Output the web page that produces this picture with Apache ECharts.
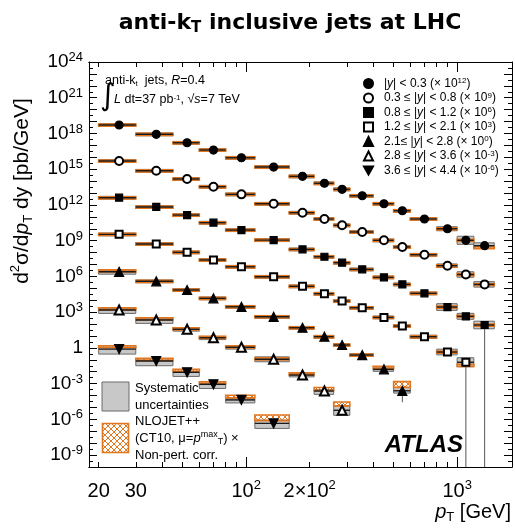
<!DOCTYPE html>
<html><head><meta charset="utf-8">
<script src="https://cdn.jsdelivr.net/npm/echarts@6/dist/echarts.min.js"></script>
<style>html,body{margin:0;padding:0;background:#fff}#c{width:515px;height:532px}</style>
</head><body><div id="c"></div>
<script>
// ---------------- data ----------------
const ptEdges = [20,30,45,60,80,110,160,210,260,310,400,500,600,800,1000,1200,1500];
const xTickLabels = [20, 30, 100, 200, 1000];
const yLabelExps = [-9,-6,-3,0,3,6,9,12,15,18,21,24];
const rapLabels = ['|y| < 0.3','0.3 ≤ |y| < 0.8','0.8 ≤ |y| < 1.2','1.2 ≤ |y| < 2.1','2.1≤ |y| < 2.8','2.8 ≤ |y| < 3.6','3.6 ≤ |y| < 4.4'];
const scaleExps = [12, 9, 6, 3, 0, -3, -6];

// measured cross sections [pb/GeV] (unscaled)
const xsec_y00_03 = [5.13e6, 8.51e5, 1.66e5, 4.07e4, 9.12e3, 1.51e3, 251, 66.1, 20.4, 5.89, 1.26, 0.324, 0.0661, 0.0100, 1.07e-3, 3.8e-4];
const xsec_y03_08 = [4.9e6, 7.41e5, 1.51e5, 3.39e4, 7.76e3, 1.26e3, 224, 66.1, 19.5, 5.37, 1.07, 0.295, 0.0661, 7.94e-3, 1.45e-3, 2.14e-4];
const xsec_y08_12 = [4.07e6, 6.76e5, 1.41e5, 3.24e4, 7.76e3, 1.12e3, 186, 44.7, 14.1, 3.89, 0.832, 0.214, 0.038, 2.69e-3, 4.47e-4, 8.3e-5];
const xsec_y12_21 = [3.39e6, 5.25e5, 1.05e5, 2.4e4, 6.46e3, 933, 148, 35.5, 8.51, 2.34, 0.363, 0.0676, 8.7e-3, 4.47e-4, 6.2e-5];
const xsec_y21_28 = [2.45e6, 3.89e5, 7.24e4, 1.45e4, 2.82e3, 407, 49, 8.7, 1.74, 0.251, 0.0158, 2.5e-4];
const xsec_y28_36 = [1.51e6, 2.19e5, 3.63e4, 7.08e3, 1.12e3, 110, 5.25, 0.24, 5.75e-3];
const xsec_y36_44 = [7.94e5, 7.94e4, 8.91e3, 871, 42.7, 0.457];

// systematic uncertainties (relative, up / down)
const sysUp_y00_03 = [0.3,0.3,0.3,0.3,0.3,0.3,0.3,0.3,0.3,0.3,0.3,0.3,0.3,0.48,1.2,0.74];
const sysDn_y00_03 = [0.25,0.25,0.25,0.25,0.25,0.25,0.25,0.25,0.25,0.25,0.25,0.25,0.25,0.32,0.54,0.42];
const sysUp_y03_08 = [0.3,0.3,0.3,0.3,0.3,0.3,0.3,0.3,0.3,0.3,0.3,0.3,0.3,0.4,0.7,0.7];
const sysDn_y03_08 = [0.25,0.25,0.25,0.25,0.25,0.25,0.25,0.25,0.25,0.25,0.25,0.25,0.25,0.3,0.41,0.41];
const sysUp_y08_12 = [0.3,0.3,0.3,0.3,0.3,0.3,0.3,0.3,0.3,0.3,0.3,0.3,0.3,0.9,0.78,1.1];
const sysDn_y08_12 = [0.25,0.25,0.25,0.25,0.25,0.25,0.25,0.25,0.25,0.25,0.25,0.25,0.25,0.48,0.44,0.52];
const sysUp_y12_21 = [0.3,0.3,0.3,0.3,0.3,0.3,0.3,0.3,0.3,0.3,0.3,0.3,0.35,0.74,1.4];
const sysDn_y12_21 = [0.25,0.25,0.25,0.25,0.25,0.25,0.25,0.25,0.25,0.25,0.25,0.25,0.3,0.42,0.58];
const sysUp_y21_28 = [0.35,0.3,0.3,0.3,0.3,0.3,0.3,0.3,0.3,0.3,0.3,0.9];
const sysDn_y21_28 = [0.37,0.25,0.25,0.25,0.25,0.25,0.25,0.25,0.25,0.25,0.32,0.36];
const sysUp_y28_36 = [0.41,0.41,0.3,0.3,0.3,0.6,0.3,0.3,1.3];
const sysDn_y28_36 = [0.48,0.48,0.3,0.3,0.3,0.38,0.3,0.48,0.62];
const sysUp_y36_44 = [0.48,0.2,0.2,0.2,0.26,0.9];
const sysDn_y36_44 = [0.62,0.6,0.55,0.55,0.44,0.62];

// NLOJET++ x non-pert. corr. : ratio theory/data and relative uncertainty
const nlo_y00_03 = [1,1,1,1,1,1,1,1,1,1,1,1,1,1,1,0.7];
const nlo_y03_08 = [1,1,1,1,1,1,1,1,1,1,1,1,1,1,1,1];
const nlo_y08_12 = [1,1,1,1,1,1,1,1,1,1,1,1,1,1,1,1];
const nlo_y12_21 = [1,1,1,1,1,1,1,1,1,1,1,1,1,1,0.55];
const nlo_y21_28 = [1.2,1,1,1,1,1,1,1,1,1,1.47,3.9];
const nlo_y28_36 = [1.3,1.3,1.1,1.1,1.1,1.1,1.26,1.5,3.65];
const nlo_y36_44 = [1.6,1.4,1.47,1.34,2.0,3.4];
const nloUnc_y00_03 = [0.2,0.2,0.2,0.2,0.2,0.2,0.2,0.2,0.2,0.2,0.2,0.2,0.2,0.2,0.2,0.2];
const nloUnc_y03_08 = [0.2,0.2,0.2,0.2,0.2,0.2,0.2,0.2,0.2,0.2,0.2,0.2,0.2,0.2,0.2,0.2];
const nloUnc_y08_12 = [0.2,0.2,0.2,0.2,0.2,0.2,0.2,0.2,0.2,0.2,0.2,0.2,0.2,0.2,0.2,0.2];
const nloUnc_y12_21 = [0.2,0.2,0.2,0.2,0.2,0.2,0.2,0.2,0.2,0.2,0.2,0.2,0.2,0.2,0.2];
const nloUnc_y21_28 = [0.2,0.2,0.2,0.2,0.2,0.2,0.2,0.2,0.2,0.2,0.2,0.5];
const nloUnc_y28_36 = [0.2,0.2,0.2,0.2,0.2,0.2,0.2,0.3,0.35];
const nloUnc_y36_44 = [0.2,0.2,0.2,0.2,0.25,0.5];

// statistical uncertainty (down), only where visible
const statDn_y00_03 = [0,0,0,0,0,0,0,0,0,0,0,0,0,0,0,0];
const statDn_y03_08 = [0,0,0,0,0,0,0,0,0,0,0,0,0,0,0,0];
const statDn_y08_12 = [0,0,0,0,0,0,0,0,0,0,0,0,0,0,0,1.0];
const statDn_y12_21 = [0,0,0,0,0,0,0,0,0,0,0,0,0,0,1.0];
const statDn_y21_28 = [0,0,0,0,0,0,0,0,0,0,0,0.89];
const statDn_y28_36 = [0,0,0,0,0,0,0,0,0];
const statDn_y36_44 = [0,0,0,0,0,0];

// ---------------- build ----------------
const XS = [xsec_y00_03,xsec_y03_08,xsec_y08_12,xsec_y12_21,xsec_y21_28,xsec_y28_36,xsec_y36_44];
const SU = [sysUp_y00_03,sysUp_y03_08,sysUp_y08_12,sysUp_y12_21,sysUp_y21_28,sysUp_y28_36,sysUp_y36_44];
const SD = [sysDn_y00_03,sysDn_y03_08,sysDn_y08_12,sysDn_y12_21,sysDn_y21_28,sysDn_y28_36,sysDn_y36_44];
const NR = [nlo_y00_03,nlo_y03_08,nlo_y08_12,nlo_y12_21,nlo_y21_28,nlo_y28_36,nlo_y36_44];
const NU = [nloUnc_y00_03,nloUnc_y03_08,nloUnc_y08_12,nloUnc_y12_21,nloUnc_y21_28,nloUnc_y28_36,nloUnc_y36_44];
const ST = [statDn_y00_03,statDn_y03_08,statDn_y08_12,statDn_y12_21,statDn_y21_28,statDn_y28_36,statDn_y36_44];
const symbols = ['circle','emptyCircle','rect','emptyRect','triangle','emptyTriangle','triangle'];
const symRot = [0,0,0,0,0,0,180];
const symSize = [8,8,7,7,9,9,9];

const YMIN = -10, YMAX = 24;
const XMIN = Math.log10(18), XMAX = Math.log10(1820);
const L = Math.log10;
const FONT = '"Liberation Sans", Arial, Helvetica, sans-serif';
const ORANGE = '#E2761F';

function makeHatch() {
  const c = document.createElement('canvas'); c.width = 6; c.height = 6;
  const g = c.getContext('2d');
  g.strokeStyle = ORANGE; g.lineWidth = 1;
  g.beginPath(); g.moveTo(0,0); g.lineTo(6,6); g.moveTo(6,0); g.lineTo(0,6); g.stroke();
  return c;
}
const hatchFill = {image: makeHatch(), repeat: 'repeat'};

function renderBand(params, api) {
  const xlo = api.value(0), xhi = api.value(1), yv = api.value(2);
  const sLo = api.value(3), sHi = api.value(4), tLo = api.value(5), tHi = api.value(6), stLo = api.value(7), xc = api.value(8);
  const a = api.coord([xlo, sHi]), b = api.coord([xhi, sLo]);
  const c = api.coord([xlo, tHi]), d = api.coord([xhi, tLo]);
  const e = api.coord([xlo, yv]), f = api.coord([xhi, yv]);
  const m = api.coord([xc, yv]), g = api.coord([xc, stLo]);
  const ch = [
    {type:'rect', shape:{x:a[0], y:a[1], width:b[0]-a[0], height:b[1]-a[1]}, style:{fill:'#c8c8c8', stroke:'#6a6a6a', lineWidth:1}},
    {type:'rect', shape:{x:c[0], y:c[1], width:d[0]-c[0], height:d[1]-c[1]}, style:{fill:hatchFill, stroke:ORANGE, lineWidth:1.6}},
    {type:'line', shape:{x1:e[0], y1:e[1], x2:f[0], y2:f[1]}, style:{stroke:'#1a1a1a', lineWidth:1.4}}
  ];
  if (stLo < yv - 1e-9) ch.push({type:'line', shape:{x1:m[0], y1:m[1], x2:g[0], y2:g[1]}, style:{stroke:'#555', lineWidth:1}});
  return {type:'group', children: ch};
}

const series = [];
XS.forEach((xs, k) => {
  const sc = Math.pow(10, scaleExps[k]);
  const bandData = [], ptData = [];
  xs.forEach((v, i) => {
    const lo = ptEdges[i], hi = ptEdges[i+1];
    const val = v * sc;
    const th = val * NR[k][i];
    const stl = Math.max(val * (1 - ST[k][i]), Math.pow(10, YMIN));
    bandData.push([L(lo), L(hi), L(val), L(val*(1-SD[k][i])), L(val*(1+SU[k][i])),
      L(th*(1-NU[k][i])), L(th*(1+NU[k][i])), L(stl), L((lo+hi)/2)]);
    ptData.push([L((lo+hi)/2), L(val)]);
  });
  series.push({type:'custom', renderItem: renderBand, data: bandData, clip: true, z: 2, silent: true,
    encode: {x: [0,1], y: [3,4]}});
  series.push({type:'scatter', name: 's'+k, data: ptData, symbol: symbols[k], symbolRotate: symRot[k],
    symbolSize: symSize[k], itemStyle: {color:'#000', borderColor:'#000', borderWidth:1.2, opacity:1}, z: 5, silent: true});
});

function supFmt(base, exp) { return '{b|' + base + '}{s|' + exp + '}'; }
const xLabelText = {20:'{b|20}', 30:'{b|30}', 100: supFmt('10','2'), 200: '{b|2×10}{s|2}', 1000: supFmt('10','3')};
const xMinorTicks = [];
[10,100,1000].forEach(d => { for (let j=1;j<=9;j++){ const v=d*j; if (v>=20 && v<=1800) xMinorTicks.push(L(v)); }});
const xMajorTicks = [2, 3];

const labRich = {
  b: {fontSize: 20, fontFamily: FONT, color:'#000', lineHeight: 24},
  s: {fontSize: 13, fontFamily: FONT, color:'#000', lineHeight: 12, verticalAlign:'top'}
};
const yLabRich = {
  b: {fontSize: 19, fontFamily: FONT, color:'#000', lineHeight: 22},
  s: {fontSize: 13, fontFamily: FONT, color:'#000', lineHeight: 11, verticalAlign:'top'}
};

function xAx(pos, ticks, len, labels) {
  return {type:'value', min: XMIN, max: XMAX, position: pos,
    axisLine: {show: true, onZero: false, lineStyle: {color:'#000', width:1}},
    axisTick: {show: true, inside: true, length: len, customValues: ticks, lineStyle:{color:'#000', width:1}},
    axisLabel: labels ? {show:true, customValues: xTickLabels.map(L), margin: 12,
      formatter: v => { const raw = Math.round(Math.pow(10, v)); return xLabelText[raw] || ''; }, rich: labRich} : {show:false},
    splitLine: {show:false}};
}
function yAx(pos, labels) {
  return {type:'value', min: YMIN, max: YMAX, interval: 1, position: pos,
    axisLine: {show: true, onZero: false, lineStyle: {color:'#000', width:1}},
    axisTick: {show: true, inside: true, length: 8, lineStyle:{color:'#000', width:1}},
    minorTick: {show: true, splitNumber: 2, length: 4, lineStyle:{color:'#000', width:1}},
    axisLabel: labels ? {show:true, customValues: yLabelExps, margin: 6,
      formatter: v => v === 0 ? '{b|1}' : supFmt('10', String(v)), rich: yLabRich} : {show:false},
    splitLine: {show:false}};
}

const legendRich = {
  n: {fontSize: 12, fontFamily: FONT, color:'#000', lineHeight: 13},
  i: {fontSize: 12, fontFamily: FONT, color:'#000', lineHeight: 13, fontStyle:'italic'},
  s: {fontSize: 8, fontFamily: FONT, color:'#000', lineHeight: 8, verticalAlign:'top'}
};
function legendText(k) {
  const parts = rapLabels[k].split('y');
  return '{n|' + parts[0] + '}{i|y}{n|' + parts[1] + ' (× 10}{s|' + scaleExps[k] + '}{n|)}';
}

const txt = (x, y, rich, text, extra) => Object.assign({type:'text', x, y, silent:true,
  style: Object.assign({text, rich, fill:'#000'}, extra || {})});

const textR = {
  n: {fontSize: 12.5, fontFamily: FONT, color:'#000'},
  i: {fontSize: 12.5, fontFamily: FONT, color:'#000', fontStyle:'italic'},
  sb: {fontSize: 8, fontFamily: FONT, color:'#000', verticalAlign:'bottom', lineHeight: 6},
  sp: {fontSize: 8, fontFamily: FONT, color:'#000', verticalAlign:'top', lineHeight: 8}
};
const leg2R = {
  n: {fontSize: 13, fontFamily: FONT, color:'#000', lineHeight: 16},
  i: {fontSize: 13, fontFamily: FONT, color:'#000', fontStyle:'italic', lineHeight: 16},
  sb: {fontSize: 9, fontFamily: FONT, color:'#000', verticalAlign:'bottom', lineHeight: 7},
  sp: {fontSize: 9, fontFamily: FONT, color:'#000', verticalAlign:'top', lineHeight: 9}
};

const titleText = txt(290, 23, {
    t: {fontSize: 22, fontFamily: '"DejaVu Sans", sans-serif', fontWeight:'bold', color:'#000', lineHeight: 26},
    u: {fontSize: 15, fontFamily: '"DejaVu Sans", sans-serif', fontWeight:'bold', color:'#000', verticalAlign:'bottom', lineHeight: 12}
  }, '{t|anti-k}{u|T}{t| inclusive jets at LHC}', {align:'center', verticalAlign:'middle'});
const yTitle = txt(22, 191, {
    t: {fontSize: 21, fontFamily: FONT, color:'#000', lineHeight: 26},
    it: {fontSize: 21, fontFamily: FONT, color:'#000', fontStyle:'italic', lineHeight: 26},
    sp: {fontSize: 13, fontFamily: FONT, color:'#000', verticalAlign:'top', lineHeight: 12},
    sb: {fontSize: 13, fontFamily: FONT, color:'#000', verticalAlign:'bottom', lineHeight: 10}
  }, '{t|d}{sp|2}{t|σ/d}{it|p}{sb|T}{t| dy [pb/GeV]}', {align:'center', verticalAlign:'middle'});
yTitle.rotation = Math.PI / 2;

const graphics = [
  titleText,
  yTitle,
  txt(511, 512, {
    t: {fontSize: 20, fontFamily: FONT, color:'#000', lineHeight: 24},
    it: {fontSize: 20, fontFamily: FONT, color:'#000', fontStyle:'italic', lineHeight: 24},
    sb: {fontSize: 13, fontFamily: FONT, color:'#000', verticalAlign:'bottom', lineHeight: 10}
  }, '{it|p}{sb|T}{t| [GeV]}', {align:'right', verticalAlign:'middle'}),
  txt(105, 81, textR, '{n|anti-k}{sb|t}{n|  jets, }{i|R}{n|=0.4}', {align:'left', verticalAlign:'middle'}),
  txt(100, 97, {g:{fontSize: 30, fontFamily:'"DejaVu Sans", sans-serif', color:'#000'}}, '{g|∫}', {align:'left', verticalAlign:'middle'}),
  txt(114, 100, textR, '{i|L}{n| dt=37 pb}{sp|-1}{n|, √}{i|s}{n|=7 TeV}', {align:'left', verticalAlign:'middle'}),
  {type:'rect', shape:{x:102, y:382, width:27, height:29}, style:{fill:'#c8c8c8', stroke:'#6a6a6a', lineWidth:1}, silent:true},
  {type:'rect', shape:{x:102.5, y:423.5, width:26, height:29}, style:{fill:hatchFill, stroke:ORANGE, lineWidth:1.6}, silent:true},
  txt(135, 388, leg2R, '{n|Systematic}', {align:'left', verticalAlign:'middle'}),
  txt(135, 405, leg2R, '{n|uncertainties}', {align:'left', verticalAlign:'middle'}),
  txt(135, 421, leg2R, '{n|NLOJET++}', {align:'left', verticalAlign:'middle'}),
  txt(135, 438, leg2R, '{n|(CT10, μ=}{i|p}{sp|max}{sb|T}{n|) ×}', {align:'left', verticalAlign:'middle'}),
  txt(135, 455, leg2R, '{n|Non-pert. corr.}', {align:'left', verticalAlign:'middle'}),
  txt(463, 445, {a:{fontSize: 24, fontFamily: FONT, fontWeight:'bold', fontStyle:'italic', color:'#000'}}, '{a|ATLAS}', {align:'right', verticalAlign:'middle'})
];
graphics.forEach(g => { g.z = 10; });

const legendData = XS.map((_, k) => k === 6 ? {name: 's6', icon: 'path://M0,0 L10,0 L5,9 Z'} : {name: 's' + k});

const option = {
  animation: false,
  backgroundColor: '#fff',
  grid: {left: 89, right: 3, top: 62, bottom: 65, containLabel: false},
  xAxis: [xAx('bottom', xMinorTicks, 5, true), xAx('bottom', xMajorTicks, 10, false),
          xAx('top', xMinorTicks, 5, false), xAx('top', xMajorTicks, 10, false)],
  yAxis: [yAx('left', true), yAx('right', false)],
  legend: {
    show: true, orient: 'vertical', left: 358, top: 72, itemWidth: 9, itemHeight: 9, itemGap: 2,
    data: legendData,
    formatter: name => legendText(+name.slice(1)),
    textStyle: {rich: legendRich, padding: [0,0,0,6]},
    selectedMode: false, inactiveColor: '#000'
  },
  graphic: graphics,
  series: series
};
const chart = echarts.init(document.getElementById('c'));
chart.setOption(option);
</script>
</body></html>
